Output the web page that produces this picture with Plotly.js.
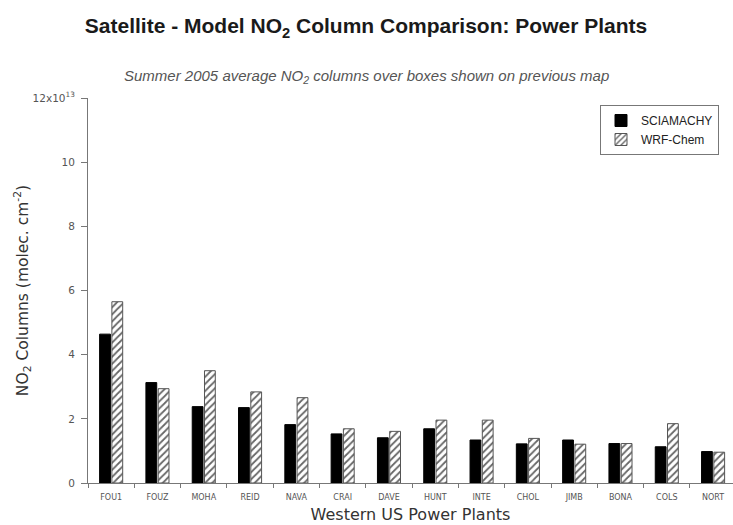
<!DOCTYPE html>
<html>
<head>
<meta charset="utf-8">
<script src="https://cdn.plot.ly/plotly-3.0.1.min.js"></script>
<style>
  html, body { margin: 0; padding: 0; background: #fff; }
  #chart { width: 733px; height: 525px; }
</style>
</head>
<body>
<div id="chart"></div>
<script>
// Power plant site codes (x categories)
const plants = ["FOU1", "FOUZ", "MOHA", "REID", "NAVA", "CRAI", "DAVE",
                "HUNT", "INTE", "CHOL", "JIMB", "BONA", "COLS", "NORT"];

// Summer 2005 mean NO2 columns, units of 1e13 molec/cm^2
const sciamachy = [4.64, 3.13, 2.38, 2.35, 1.82, 1.53, 1.41,
                   1.69, 1.34, 1.22, 1.34, 1.23, 1.13, 0.98];
const wrfChem   = [5.65, 2.94, 3.50, 2.84, 2.66, 1.69, 1.61,
                   1.96, 1.96, 1.39, 1.21, 1.23, 1.85, 0.96];

// y-axis ticks
const yTickVals = [0, 2, 4, 6, 8, 10, 12];
const yTickText = ["0", "2", "4", "6", "8", "10", "12x10<sup>13</sup>"];

const traces = [
  {
    type: "bar",
    name: "SCIAMACHY",
    x: plants,
    y: sciamachy,
    marker: { color: "#000", line: { color: "#000", width: 1 } }
  },
  {
    type: "bar",
    name: "WRF-Chem",
    x: plants,
    y: wrfChem,
    marker: {
      color: "#fff",
      line: { color: "#555", width: 1 },
      pattern: { shape: "/", fgcolor: "#666", bgcolor: "#fff", size: 5, solidity: 0.35 }
    }
  }
];

const layout = {
  width: 733,
  height: 525,
  margin: { l: 88, r: 0, t: 98, b: 42 },
  paper_bgcolor: "#fff",
  plot_bgcolor: "#fff",
  font: { family: "Liberation Sans, Arial, sans-serif", color: "#333" },
  barmode: "group",
  bargap: 0.47,
  bargroupgap: 0.12,
  showlegend: true,
  title: {
    text: "Satellite - Model NO<sub>2</sub> Column Comparison: Power Plants",
    font: { family: "Liberation Sans, Arial, sans-serif", size: 21, color: "#1a1a1a", weight: "bold" },
    x: 366 / 733, xref: "container", xanchor: "center",
    y: 1 - 26 / 525, yref: "container", yanchor: "middle"
  },
  annotations: [
    {
      text: "<i>Summer 2005 average NO<sub>2</sub> columns over boxes shown on previous map</i>",
      xref: "paper", yref: "paper",
      x: (366 - 88) / 645, y: (483 - 76) / 385, xanchor: "center", yanchor: "middle",
      showarrow: false,
      font: { family: "Liberation Sans, Arial, sans-serif", size: 15, color: "#555" }
    }
  ],
  xaxis: {
    type: "category",
    range: [-0.5, 13.43],
    tickson: "boundaries",
    ticks: "outside",
    ticklen: 4,
    tickcolor: "#777",
    ticklabelstandoff: 6,
    showline: true,
    linecolor: "#777",
    linewidth: 1,
    showgrid: false,
    zeroline: false,
    tickfont: { family: "DejaVu Sans, sans-serif", size: 8, color: "#555" },
    title: {
      text: "Western US Power Plants",
      font: { family: "DejaVu Sans, sans-serif", size: 16, color: "#333" },
      standoff: 8
    }
  },
  yaxis: {
    range: [0, 12],
    tickvals: yTickVals,
    ticktext: yTickText,
    ticks: "outside",
    ticklen: 6,
    tickcolor: "#777",
    ticklabelstandoff: 4,
    showline: true,
    linecolor: "#777",
    linewidth: 1,
    showgrid: false,
    zeroline: false,
    tickfont: { family: "DejaVu Sans, sans-serif", size: 10.5, color: "#555" },
    title: {
      text: "NO<sub>2</sub> Columns (molec. cm<sup>-2</sup>)",
      font: { family: "DejaVu Sans, sans-serif", size: 15.5, color: "#333" },
      standoff: 0
    }
  },
  legend: {
    x: (600 - 88) / 645, y: (483 - 105) / 385, xanchor: "left", yanchor: "top",
    bgcolor: "#fff",
    bordercolor: "#777",
    borderwidth: 1,
    font: { family: "Liberation Sans, Arial, sans-serif", size: 12, color: "#222" },
    itemwidth: 30,
    tracegroupgap: 0
  }
};

Plotly.newPlot("chart", traces, layout, { displayModeBar: false, staticPlot: true });
</script>
</body>
</html>
